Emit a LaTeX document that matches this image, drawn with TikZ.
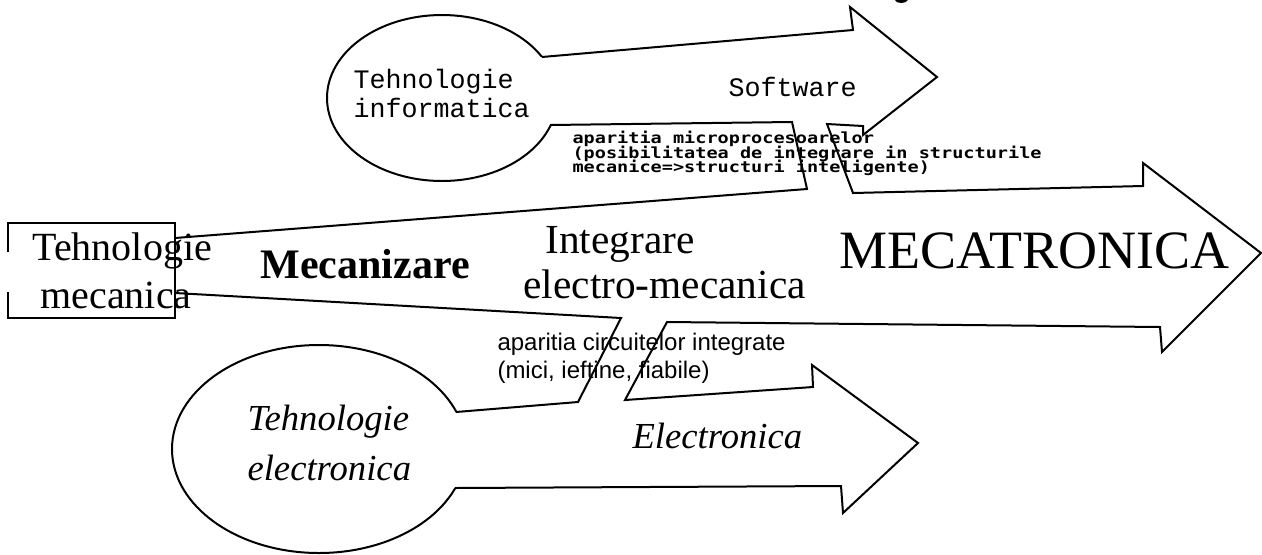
\documentclass[tikz,border=0pt]{standalone}
\usepackage{fontspec}
\setmainfont{Liberation Serif}
\newfontfamily\courierfont{Liberation Mono}
\newfontfamily\arialfont{Liberation Sans}
\newfontfamily\monobold{DejaVu Sans Mono}
\usepackage{tikz}
\tikzset{every picture/.style={line width=0.75pt}}
\newcommand{\setfsize}[1]{\fontsize{#1pt}{#1pt}\selectfont}
\tikzset{
  outline/.style={line width=1.5pt, line join=miter, miter limit=20},
  lbl/.style={inner sep=0pt, anchor=base west},
}

\begin{document}
\begin{tikzpicture}[x=0.75pt,y=0.75pt,yscale=-1,xscale=1]
\useasboundingbox (0,0) rectangle (1262,554);
\fill [white] (0,0) rectangle (1262,554);

%Shape: Ellipse (informatica)
\draw  [outline, fill=white] (327,98) .. controls (327,52.16) and (378.49,15) .. (442,15) .. controls (505.51,15) and (557,52.16) .. (557,98) .. controls (557,143.84) and (505.51,181) .. (442,181) .. controls (378.49,181) and (327,143.84) .. (327,98) -- cycle ;
%Shape: Ellipse (electronica)
\draw  [outline, fill=white] (172,449) .. controls (172,391.56) and (237.81,345) .. (319,345) .. controls (400.19,345) and (466,391.56) .. (466,449) .. controls (466,506.44) and (400.19,553) .. (319,553) .. controls (237.81,553) and (172,506.44) .. (172,449) -- cycle ;

%Shape: Arrows (white body)
\fill [white] (550,125) -- (792,122) -- (807,189) -- (175,238) -- (175,293) -- (621,318) -- (578,402) -- (456,412) -- (420,450) -- (455,488) -- (841,486) -- (843,513) -- (918,443) -- (812,365) -- (813,387) -- (625,400) -- (667,322) -- (1160,327) -- (1162,352) -- (1261,253) -- (1143,163) -- (1143,186) -- (853,193) -- (827,124) -- (863,126) -- (863,135) -- (937,77) -- (850,7) -- (853,30) -- (542,57) -- (500,90) -- cycle ;

%Straight Lines (upper edge of mecanizare)
\draw [outline]  (550,125) -- (792,122) -- (807,189) -- (175,238) ;
%Straight Lines (lower edge of mecanizare)
\draw [outline]  (175,293) -- (621,318) -- (578,402) -- (456,412) ;
%Straight Lines (electronica, mecatronica, software)
\draw [outline]  (455,488) -- (841,486) -- (843,513) -- (918,443) -- (812,365) -- (813,387) -- (625,400) -- (667,322) -- (1160,327) -- (1162,352) -- (1261,253) -- (1143,163) -- (1143,186) -- (853,193) -- (827,124) -- (863,126) -- (863,135) -- (937,77) -- (850,7) -- (853,30) -- (542,57) ;

%Shape: Rectangle (mecanica)
\draw [outline, line width=1.3pt]  (8,252) -- (8,223) -- (175,223) -- (175,318) -- (8,318) -- (8,292) ;

%Shape: Blob
\fill  (895,0) .. controls (896,4) and (906,4) .. (908,0) -- cycle ;

% Text Node
\draw (353,88) node [lbl, font=\courierfont\setfsize{20}] (info1) {Tehnologie};
% Text Node
\draw (353,117) node [lbl, font=\courierfont\setfsize{20}] (info2) {informatica};
% Text Node
\draw (728,96) node [lbl, font=\courierfont\setfsize{20}] (soft) {Software};
% Text Node
\draw (572,143.5) node [lbl, font=\monobold\bfseries\setfsize{11.5}] (micro1) {\scalebox{1.21}[1]{aparitia microprocesoarelor}};
% Text Node
\draw (572,158) node [lbl, font=\monobold\bfseries\setfsize{11.5}] (micro2) {\scalebox{1.21}[1]{(posibilitatea de integrare in structurile}};
% Text Node
\draw (572,172.5) node [lbl, font=\monobold\bfseries\setfsize{11.5}] (micro3) {\scalebox{1.21}[1]{mecanice=>structuri inteligente)}};
% Text Node
\draw (32,260) node [lbl, font=\setfsize{30}] (mec1) {Tehnologie};
% Text Node
\draw (40,308) node [lbl, font=\setfsize{30}] (mec2) {mecanica};
% Text Node
\draw (260,278) node [lbl, font=\bfseries\setfsize{31.5}] (mecaniz) {Mecanizare};
% Text Node
\draw (545,253) node [lbl, font=\setfsize{31}] (integ1) {Integrare};
% Text Node
\draw (523,298) node [lbl, font=\setfsize{31}] (integ2) {electro-mecanica};
% Text Node
\draw (839,268) node [lbl, font=\setfsize{40.5}] (mecatr) {MECATRONICA};
% Text Node
\draw (497,350) node [lbl, font=\arialfont\setfsize{18}] (circ1) {aparitia circuitelor integrate};
% Text Node
\draw (497,378) node [lbl, font=\arialfont\setfsize{18}] (circ2) {(mici, ieftine, fiabile)};
% Text Node
\draw (247,430) node [lbl, font=\itshape\setfsize{27.5}] (elec1) {Tehnologie};
% Text Node
\draw (247,480) node [lbl, font=\itshape\setfsize{27.5}] (elec2) {electronica};
% Text Node
\draw (632,448) node [lbl, font=\itshape\setfsize{27.5}] (electr) {Electronica};
\end{tikzpicture}
\end{document}
